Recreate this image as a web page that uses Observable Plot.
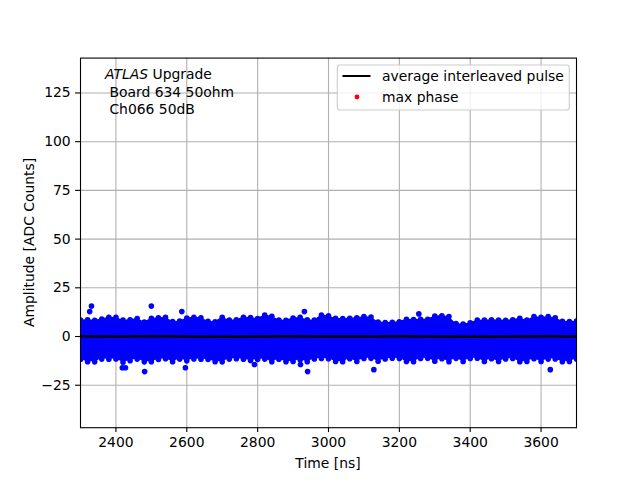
<!DOCTYPE html>
<html>
<head>
<meta charset="utf-8">
<script src="https://cdn.jsdelivr.net/npm/d3@7"></script>
<script src="https://cdn.jsdelivr.net/npm/@observablehq/plot@0.6"></script>
<style>
  html, body { margin: 0; padding: 0; background: white; }
  svg text { font-family: "DejaVu Sans", sans-serif; }
</style>
</head>
<body>
<div id="chart"></div>
<script>
// ---- data ----
const xTicks = [2400, 2600, 2800, 3000, 3200, 3400, 3600];
const yTicks = [-25, 0, 25, 50, 75, 100, 125];

// envelope of the dense sample cloud (dot centres), every 20 ns from 2300 to 3700
const envTime = [2300,2320,2340,2360,2380,2400,2420,2440,2460,2480,2500,2520,2540,2560,2580,2600,2620,2640,2660,2680,2700,2720,2740,2760,2780,2800,2820,2840,2860,2880,2900,2920,2940,2960,2980,3000,3020,3040,3060,3080,3100,3120,3140,3160,3180,3200,3220,3240,3260,3280,3300,3320,3340,3360,3380,3400,3420,3440,3460,3480,3500,3520,3540,3560,3580,3600,3620,3640,3660,3680,3700];
const envUpper = [8.5,8.6,8.3,9.0,9.9,9.8,8.4,8.6,9.2,7.4,9.3,9.6,9.8,7.7,7.9,9.5,9.9,9.6,7.8,7.6,9.9,8.4,8.6,9.9,9.7,9.2,11.0,10.4,8.5,8.3,9.5,9.8,8.6,8.4,11.0,10.6,9.3,9.2,9.4,9.6,10.2,10.0,7.4,7.2,7.3,7.6,8.8,8.7,8.9,8.8,10.5,10.6,10.3,6.6,6.4,7.0,8.5,8.4,8.6,8.5,8.3,8.6,9.4,8.4,10.2,9.9,10.2,9.6,7.8,7.7,7.9];
const envLower = [-11.8,-12.9,-13.0,-11.6,-11.7,-11.5,-13.2,-12.4,-11.6,-13.0,-12.9,-11.8,-11.4,-12.9,-11.6,-12.5,-11.5,-11.7,-11.8,-12.9,-13.0,-11.6,-11.4,-11.7,-12.3,-11.8,-11.6,-12.9,-11.7,-12.9,-12.8,-11.9,-12.9,-11.5,-11.3,-11.4,-12.8,-12.9,-11.4,-12.8,-11.3,-11.2,-12.7,-11.5,-11.1,-11.3,-12.8,-12.9,-11.3,-11.2,-12.7,-11.4,-12.9,-11.2,-12.8,-11.3,-11.1,-12.8,-11.4,-12.8,-11.5,-11.3,-12.9,-12.8,-11.4,-12.8,-11.6,-11.5,-12.9,-12.8,-11.6];

// isolated samples outside the band
const outTime  = [2326, 2331, 2500, 2586, 2932, 3255, 2418, 2427, 2481, 2596, 2791, 2921, 2941, 3128, 3626];
const outValue = [12.8, 15.6, 15.6, 12.8, 12.8, 11.6, -16.0, -16.0, -18.0, -16.0, -14.4, -14.4, -18.0, -17.0, -17.0];

// average interleaved pulse
const pulseTime  = [2300, 2400, 2500, 2600, 2700, 2800, 2900, 3000, 3100, 3200, 3300, 3400, 3500, 3600, 3700];
const pulseValue = [0.1, 0.0, 0.1, 0.0, -0.1, 0.0, 0.1, 0.0, 0.0, 0.1, 0.0, -0.1, 0.0, 0.1, 0.0];

// ---- tables ----
const env = envTime.map((t, i) => ({t, hi: envUpper[i], lo: envLower[i]}));
const edges = env.flatMap(d => [{t: d.t, v: d.hi}, {t: d.t, v: d.lo}]);
const outliers = outTime.map((t, i) => ({t, v: outValue[i]}));
const pulse = pulseTime.map((t, i) => ({t, v: pulseValue[i]}));

const FS = 13.9;
const fmt = d3.format("d");
const plot = Plot.plot({
  width: 640, height: 480,
  marginLeft: 80, marginRight: 64, marginTop: 57.6, marginBottom: 52.8,
  style: {fontFamily: "DejaVu Sans", fontSize: FS + "px", background: "white", color: "black"},
  x: {domain: [2300, 3700]},
  y: {domain: [-46.8, 142.9]},
  marks: [
    Plot.gridX(xTicks, {stroke: "#b0b0b0", strokeOpacity: 1, strokeWidth: 1.1}),
    Plot.gridY(yTicks, {stroke: "#b0b0b0", strokeOpacity: 1, strokeWidth: 1.1}),
    Plot.areaY(env, {x: "t", y1: "lo", y2: "hi", fill: "blue", clip: true}),
    Plot.dot(edges, {x: "t", y: "v", r: 2.8, fill: "blue", stroke: "none", clip: true}),
    Plot.dot(outliers, {x: "t", y: "v", r: 2.8, fill: "blue", stroke: "none", clip: true}),
    Plot.line(pulse, {x: "t", y: "v", stroke: "black", strokeWidth: 2.4, clip: true}),
    Plot.frame({stroke: "black", strokeWidth: 1.1}),
    Plot.axisX({ticks: xTicks, tickFormat: fmt, tickSize: 4.9, tickPadding: 4.9, label: null, fontSize: FS, strokeWidth: 1.1}),
    Plot.axisY({ticks: yTicks, tickFormat: fmt, tickSize: 4.9, tickPadding: 4.9, label: null, fontSize: FS, strokeWidth: 1.1})
  ]
});
document.getElementById("chart").appendChild(plot);

// ---- annotations (axis titles, text box, legend) ----
const svg = d3.select(plot);
svg.append("text").attr("x", 328).attr("y", 463).attr("dy", "0.35em")
  .attr("text-anchor", "middle").attr("font-size", FS).attr("fill", "black").text("Time [ns]");
svg.append("text").attr("transform", "translate(29,242.4) rotate(-90)").attr("dy", "0.35em")
  .attr("text-anchor", "middle").attr("font-size", FS).attr("fill", "black").text("Amplitude [ADC Counts]");

const t1 = svg.append("text").attr("x", 105).attr("y", 74).attr("dy", "0.35em").attr("text-anchor", "start")
  .attr("font-size", FS).attr("fill", "black");
t1.append("tspan").attr("font-style", "italic").text("ATLAS");
t1.append("tspan").text(" Upgrade");
svg.append("text").attr("x", 105).attr("y", 92).attr("dy", "0.35em").attr("text-anchor", "start")
  .attr("font-size", FS).attr("fill", "black").style("white-space", "pre").text(" Board 634 50ohm");
svg.append("text").attr("x", 105).attr("y", 109).attr("dy", "0.35em").attr("text-anchor", "start")
  .attr("font-size", FS).attr("fill", "black").style("white-space", "pre").text(" Ch066 50dB");

const lg = svg.append("g").attr("text-anchor", "start");
lg.append("rect").attr("x", 337.3).attr("y", 65).attr("width", 232).attr("height", 45)
  .attr("rx", 2.8).attr("fill", "white").attr("fill-opacity", 0.8).attr("stroke", "#cccccc").attr("stroke-width", 1.1);
lg.append("line").attr("x1", 342.5).attr("x2", 370.5).attr("y1", 76).attr("y2", 76)
  .attr("stroke", "black").attr("stroke-width", 2);
lg.append("text").attr("x", 382).attr("y", 76).attr("dy", "0.35em").attr("font-size", FS).attr("fill", "black")
  .text("average interleaved pulse");
lg.append("circle").attr("cx", 357).attr("cy", 97).attr("r", 2.4).attr("fill", "red");
lg.append("text").attr("x", 382).attr("y", 97).attr("dy", "0.35em").attr("font-size", FS).attr("fill", "black")
  .text("max phase");
</script>
</body>
</html>
